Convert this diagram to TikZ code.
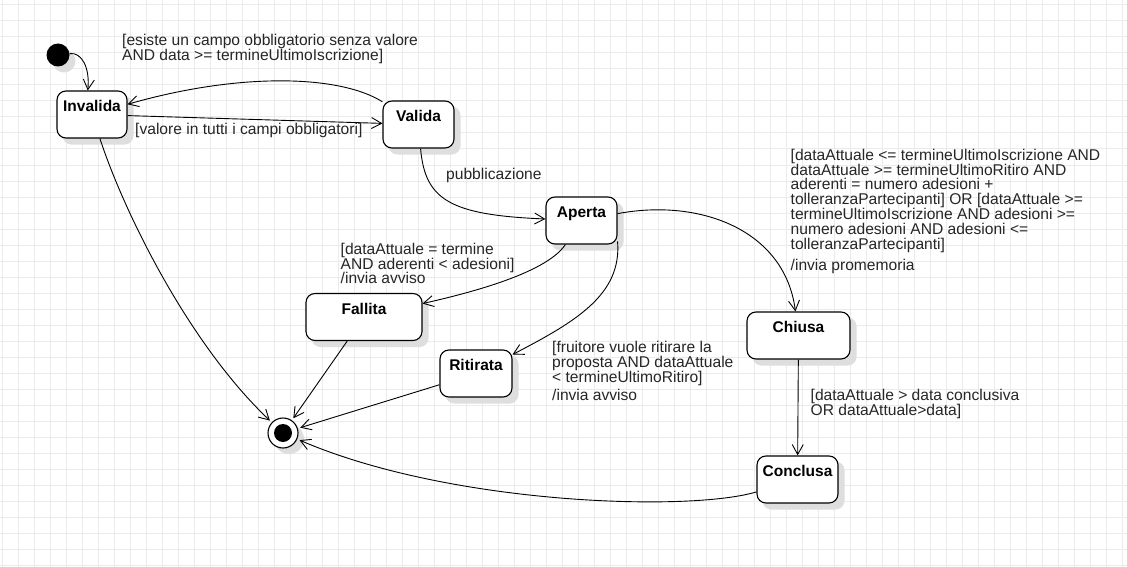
\documentclass[tikz,border=0pt]{standalone}
\usepackage{fontspec}
\setmainfont{Liberation Sans}
\usetikzlibrary{arrows.meta,backgrounds}

\begin{document}
\begin{tikzpicture}[
    x=1pt, y=-1pt,
    state/.style={draw, fill=white, rounded corners=9pt, line width=1.1pt, inner sep=0pt,
        text height=20.5pt, text depth=26.5pt, font=\bfseries\fontsize{15.5}{15}\selectfont},
    guard/.style={align=left, inner sep=0pt, anchor=north west, text=black!85,
        font=\fontsize{15.6}{14.8}\selectfont},
    trans/.style={-{Straight Barb[length=10pt,width=11pt]}, line width=0.9pt},
    gridline/.style={draw=black!8, line width=1pt},
    shadowfill/.style={fill=black!13, rounded corners=9pt},
  ]
  \useasboundingbox (0,0) rectangle (1127,567);

  % states
  \node[circle, fill=black, minimum size=23pt, inner sep=0pt] (init) at (58,55) {};
  \node[state, minimum width=70pt] (inv) at (92,114.5) {Invalida};
  \node[state, minimum width=71pt] (val) at (418.5,124.5) {Valida};
  \node[state, minimum width=71pt] (ap) at (581.5,220.5) {Aperta};
  \node[state, minimum width=116pt] (fal) at (364,317) {Fallita};
  \node[state, minimum width=72pt] (rit) at (476,373.5) {Ritirata};
  \node[state, minimum width=103pt] (chi) at (798.5,335.5) {Chiusa};
  \node[state, minimum width=81pt] (con) at (797.5,479.5) {Conclusa};
  \node[circle, draw, fill=white, line width=1.1pt, minimum size=30pt, inner sep=0pt, outer sep=3pt] (fin) at (283,433) {};
  \fill (fin.center) circle (9pt);

  % transitions
  \draw[trans] (init) .. controls (82,52) and (90,68) .. (inv.100);
  \draw[trans] (val) .. controls (340,75) and (240,72) .. (inv);
  \draw[trans] (inv) -- (val);
  \draw[trans] (val) .. controls (425,200) and (450,215) .. (ap);
  \draw[trans] (inv) .. controls (125,215) and (190,345) .. (fin);
  \draw[trans] (ap) .. controls (700,198) and (785,230) .. (chi);
  \draw[trans] (ap) .. controls (545,275) and (460,295) .. (fal);
  \draw[trans] (ap.-30) .. controls (622,295) and (575,322) .. (rit);
  \draw[trans] (fal) -- (fin);
  \draw[trans] (rit) -- (fin);
  \draw[trans] (chi) -- (con);
  \draw[trans] (con) .. controls (690,512) and (450,505) .. (fin);

  % guards
  \node[guard] (g1) at (122,34.4) {[esiste un campo obbligatorio senza valore\\AND data >= termineUltimoIscrizione]};
  \node[guard, anchor=base west] (g2) at (135,135) {[valore in tutti i campi obbligatori]};
  \node[guard, anchor=base west] (g3) at (446,179) {pubblicazione};
  \node[guard] (g4) at (790.5,148.7) {[dataAttuale <= termineUltimoIscrizione AND\\dataAttuale >= termineUltimoRitiro AND\\aderenti = numero adesioni +\\tolleranzaPartecipanti] OR [dataAttuale >=\\termineUltimoIscrizione AND adesioni >=\\numero adesioni AND adesioni <=\\tolleranzaPartecipanti]\\[7pt]/invia promemoria};
  \node[guard] (g5) at (340.5,242.7) {[dataAttuale = termine\\AND aderenti < adesioni]\\/invia avviso};
  \node[guard] (g6) at (552,341.4) {[fruitore vuole ritirare la\\proposta AND dataAttuale\\< termineUltimoRitiro]\\[3pt]/invia avviso};
  \node[guard] (g7) at (810.5,388.7) {[dataAttuale > data conclusiva\\OR dataAttuale>data]};

  % grid and shadows
  \begin{scope}[on background layer]
    \fill[white] (0,0) rectangle (1127,567);
    \foreach \gx in {0,...,70}
      \draw[gridline] ({2.5+16*\gx},0) -- ({2.5+16*\gx},567);
    \foreach \gy in {0,...,35}
      \draw[gridline] (0,{5+16*\gy}) -- (1127,{5+16*\gy});
    \foreach \s in {inv,val,ap,fal,rit,chi,con}
      \fill[shadowfill] ([shift={(6pt,-6pt)}]\s.south west) rectangle ([shift={(6pt,-6pt)}]\s.north east);
    \fill[shadowfill] ([shift={(6pt,-6pt)}]init.center) circle (11.5pt);
    \fill[shadowfill] ([shift={(6pt,-6pt)}]fin.center) circle (15pt);
  \end{scope}
\end{tikzpicture}
\end{document}
